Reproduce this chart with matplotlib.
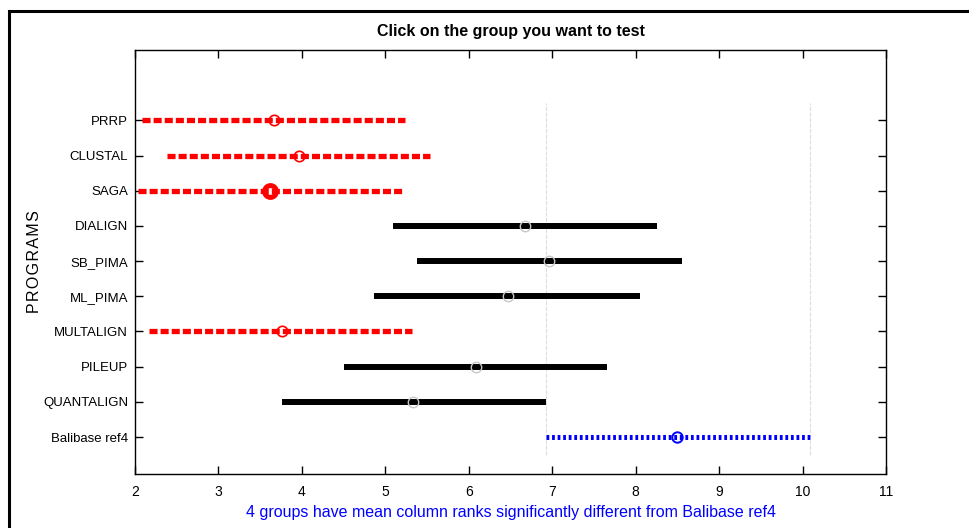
import matplotlib
matplotlib.use("Agg")
import matplotlib.pyplot as plt
from matplotlib.patches import Rectangle

plt.rcParams['font.family'] = ['Liberation Sans Narrow', 'Liberation Sans', 'DejaVu Sans']
plt.rcParams['lines.scale_dashes'] = False

# groups from bottom to top
programs = ['Balibase ref4', 'QUANTALIGN', 'PILEUP', 'MULTALIGN', 'ML_PIMA',
            'SB_PIMA', 'DIALIGN', 'SAGA', 'CLUSTAL', 'PRRP']
means = [8.50, 5.33, 6.09, 3.76, 6.47, 6.96, 6.67, 3.62, 3.96, 3.67]
lows = [6.92, 3.76, 4.50, 2.17, 4.87, 5.38, 5.09, 2.04, 2.38, 2.08]
highs = [10.09, 6.92, 7.66, 5.32, 8.05, 8.55, 8.26, 5.20, 5.54, 5.24]
# 0 = selected group, 1 = significantly different, 2 = not different
status = [0, 2, 2, 1, 2, 2, 2, 1, 1, 1]
selected_extra = 'SAGA'  # group with the heavy marker

fig = plt.figure(figsize=(9.69, 5.28), dpi=100)
ax = fig.add_axes([135 / 969, 1 - 474 / 528, 751 / 969, 424 / 528])

# outer frame of the window
fig.patches.append(Rectangle((8.5 / 969, -0.1), 2.0, 1 - 11.5 / 528 + 0.1,
                             transform=fig.transFigure, fill=False,
                             edgecolor='black', linewidth=2.2))

# reference lines at the selected group's interval
sel = status.index(0)
for xv in (lows[sel], highs[sel]):
    ax.plot([xv, xv], [0.5, 10.5], color='#dddddd', linestyle='--',
            dashes=(3, 1), linewidth=0.8, zorder=1)

for i, name in enumerate(programs):
    y = i + 1
    s = status[i]
    if s == 0:
        ax.plot([lows[i], highs[i]], [y, y], color='#0000ff', linewidth=3.6,
                dashes=(2.0, 2.0), solid_capstyle='butt', dash_capstyle='butt', zorder=3)
        ax.plot(means[i], y, 'o', mfc='none', mec='#0000ff', ms=7.5, mew=1.4, zorder=4)
    elif s == 1:
        ax.plot([lows[i], highs[i]], [y, y], color='#ff0000', linewidth=3.8,
                dashes=(5.8, 2.2), solid_capstyle='butt', dash_capstyle='butt', zorder=3)
        if name == selected_extra:
            ax.plot(means[i], y, 'o', mfc='none', mec='#ff0000', ms=8.5, mew=3.6, zorder=4)
        else:
            ax.plot(means[i], y, 'o', mfc='none', mec='#ff0000', ms=7.5, mew=1.2, zorder=4)
    else:
        ax.plot([lows[i], highs[i]], [y, y], color='black', linewidth=4.3,
                solid_capstyle='butt', zorder=3)
        ax.plot(means[i], y, 'o', mfc='none', mec='#c8c8c8', ms=7.5, mew=1.0, zorder=4)

ax.set_xlim(2, 11)
ax.set_ylim(-0.05, 12)
ax.set_xticks(range(2, 12))
ax.set_yticks(range(1, 11))
ax.set_yticklabels(programs)
ax.tick_params(direction='in', length=6, width=1, top=True, right=True,
               labelsize=9.5, colors='black')
ax.tick_params(axis='x', pad=8, labelsize=10)
ax.tick_params(axis='y', pad=5)
for sp in ax.spines.values():
    sp.set_linewidth(1.0)

ax.set_title('Click on the group you want to test', fontsize=11.5, fontweight='bold', pad=10)
ax.set_xlabel('4 groups have mean column ranks significantly different from Balibase ref4',
              color='#0000ff', fontsize=11.5, labelpad=4)
ax.set_ylabel('P\u200aR\u200aO\u200aG\u200aR\u200aA\u200aM\u200aS', fontsize=11.5, labelpad=2)
ax.yaxis.set_label_coords(-0.124, 0.5)

fig.savefig('out.png', dpi=100)
